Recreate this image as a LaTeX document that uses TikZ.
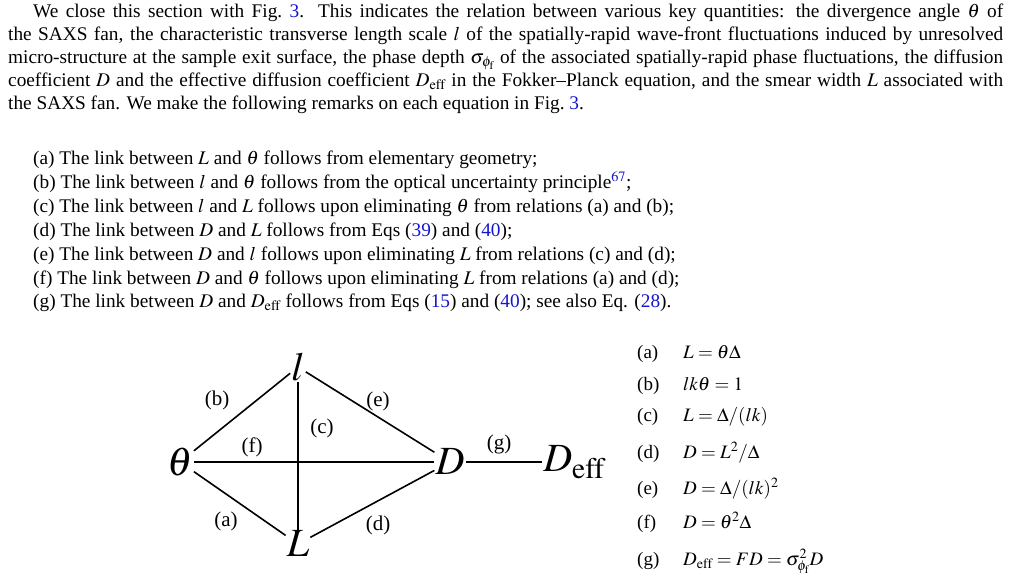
\documentclass[tikz,border=0pt]{standalone}
\usepackage{mathptmx}
\usepackage{fontspec}
\setmainfont{Liberation Serif}
\definecolor{refblue}{RGB}{20,20,210}
\newcommand{\rf}[1]{\textcolor{refblue}{#1}}
\begin{document}
\begin{tikzpicture}[x=1pt,y=-1pt,
    para/.style={anchor=north west,inner sep=0pt,text width=995pt,align=justify,font=\fontsize{19.3}{23}\selectfont},
    item/.style={anchor=base west,inner sep=0pt,font=\fontsize{19.3}{23}\selectfont},
    big/.style={font=\fontsize{40}{44}\selectfont,inner sep=1pt},
    lab/.style={font=\fontsize{21}{22}\selectfont,inner sep=0pt},
    eq/.style={anchor=base west,inner sep=0pt,font=\fontsize{19}{22}\selectfont},
    link/.style={line width=1.6pt}]
  \useasboundingbox (0,0) rectangle (1011,582);

  \node[para] (txt) at (8,4) {\hspace*{25pt}We close this section with Fig.~\rf{3}. This indicates the relation between various key quantities: the divergence angle $\theta$ of\linebreak
  the SAXS fan, the characteristic transverse length scale $l$ of the spatially-rapid wave-front fluctuations induced by unresolved\linebreak
  micro-structure at the sample exit surface, the phase depth $\sigma_{\phi_{\rm f}}$ of the associated spatially-rapid phase fluctuations, the diffusion\linebreak
  coefficient $D$ and the effective diffusion coefficient $D_{\rm eff}$ in the Fokker--Planck equation, and the smear width $L$ associated with\linebreak
  the SAXS fan. We make the following remarks on each equation in Fig.~\rf{3}.};

  \node[item] (ia) at (33,164) {(a) The link between $L$ and $\theta$ follows from elementary geometry;};
  \node[item] (ib) at (33,188) {(b) The link between $l$ and $\theta$ follows from the optical uncertainty principle$^{\rf{67}}$;};
  \node[item] (ic) at (33,212) {(c) The link between $l$ and $L$ follows upon eliminating $\theta$ from relations (a) and (b);};
  \node[item] (id) at (33,236) {(d) The link between $D$ and $L$ follows from Eqs (\rf{39}) and (\rf{40});};
  \node[item] (ie) at (33,260) {(e) The link between $D$ and $l$ follows upon eliminating $L$ from relations (c) and (d);};
  \node[item] (if) at (33,284) {(f) The link between $D$ and $\theta$ follows upon eliminating $L$ from relations (a) and (d);};
  \node[item] (ig) at (33,307) {(g) The link between $D$ and $D_{\rm eff}$ follows from Eqs (\rf{15}) and (\rf{40}); see also Eq. (\rf{28}).};

  % diagram
  \node[big] (theta) at (180,462) {$\theta$};
  \node[big] (l) at (298,367) {$l$};
  \node[big] (L) at (298,544) {$L$};
  \node[big] (D) at (450,462) {$D$};
  \node[big] (Deff) at (574,462) {$D_{\rm eff}$};

  \draw[link] (theta) -- (l);
  \draw[link] (l) -- (D);
  \draw[link] (theta) -- (L);
  \draw[link] (L) -- (D);
  \draw[link] (l) -- (L);
  \draw[link] (theta) -- (D);
  \draw[link] (D) -- (Deff);

  \node[lab] (lb) at (217,400) {(b)};
  \node[lab] (le) at (378,401) {(e)};
  \node[lab] (lc) at (322,428) {(c)};
  \node[lab] (lf) at (252,447) {(f)};
  \node[lab] (lg) at (499,444) {(g)};
  \node[lab] (la) at (226,521) {(a)};
  \node[lab] (ld) at (378,525) {(d)};

  % relations
  \foreach \t/\e/\y in {a/{$L=\theta\Delta$}/358, b/{$lk\theta=1$}/390, c/{$L=\Delta/(lk)$}/421,
      d/{$D=L^2/\Delta$}/458, e/{$D=\Delta/(lk)^2$}/494, f/{$D=\theta^2\Delta$}/528,
      g/{$D_{\rm eff}=FD=\sigma_{\phi_{\rm f}}^2D$}/565}{
    \node[eq] (tag\t) at (637,\y) {(\t)};
    \node[eq] (eq\t) at (683,\y) {\e};
  }
\end{tikzpicture}
\end{document}
